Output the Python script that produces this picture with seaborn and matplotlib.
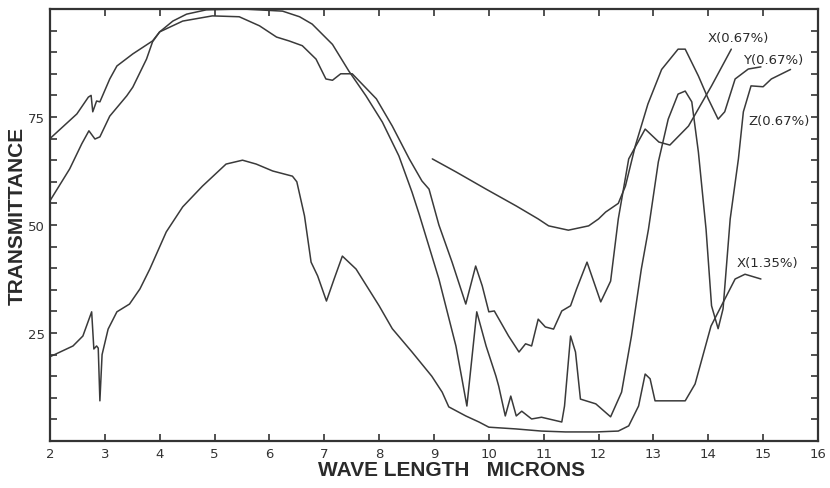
import seaborn as sns
import matplotlib
import matplotlib.pyplot as plt

matplotlib.use('Agg')

# wave length (microns) and transmittance (%)
x067_wl = [2.0, 2.49, 2.7, 2.75, 2.78, 2.85, 2.91, 3.09, 3.22, 3.51, 3.87, 4.0, 4.42, 4.96, 5.45,
           5.82, 6.13, 6.36, 6.6, 6.85, 7.03, 7.15, 7.3, 7.51, 7.95, 8.24, 8.55, 8.78, 8.91, 9.09,
           9.33, 9.58, 9.76, 9.88, 10.0, 10.1, 10.36, 10.55, 10.67, 10.78, 10.9, 11.03, 11.18,
           11.33, 11.49, 11.6, 11.79, 12.04, 12.22, 12.36, 12.55, 12.85, 13.1, 13.3, 13.64,
           14.06, 14.42]
x067_tr = [70, 75.7, 79.6, 80, 76.2, 78.7, 78.5, 83.8, 86.8, 89.6, 92.6, 94.7, 97.2, 98.4, 98.2,
           96.1, 93.5, 92.6, 91.5, 88.4, 83.8, 83.5, 85, 85, 79.2, 72.9, 65.3, 60.2, 58.3, 50,
           41.4, 31.7, 40.5, 35.9, 29.9, 30.1, 24.3, 20.6, 22.5, 22, 28.2, 26.4, 25.9,
           30.1, 31.3, 35.2, 41.4, 32.2, 37, 51.4, 65.3, 72.2, 69.2, 68.5, 72.9,
           82.2, 90.7]

z067_wl = [2.0, 2.36, 2.58, 2.71, 2.82, 2.91, 3.09, 3.4, 3.51, 3.76, 3.87, 4.0, 4.24, 4.49, 4.85,
           5.5, 6.24, 6.55, 6.78, 7.15, 7.45, 7.76, 8.06, 8.36, 8.6, 8.73, 9.09, 9.4, 9.51, 9.6,
           9.78, 9.95, 10.13, 10.18, 10.3, 10.4, 10.5, 10.6, 10.78, 10.96, 11.33, 11.38, 11.49,
           11.58, 11.67, 11.95, 12.22, 12.42, 12.6, 12.78, 12.91, 13.09, 13.27, 13.45, 13.58,
           13.7, 13.82, 13.96, 14.06, 14.18, 14.27, 14.4, 14.55, 14.64, 14.78, 15.0, 15.15, 15.5]
z067_tr = [55.6, 63, 68.8, 71.8, 69.9, 70.4, 75.2, 79.9, 81.9, 88.4, 92.4, 94.7, 97.2, 98.8, 99.8,
           100, 99.5, 98.2, 96.5, 91.8, 85.6, 79.9, 73.8, 66, 57.6, 52.5, 37.5, 22, 14.4, 8.1,
           29.9, 22, 15, 12.7, 5.8, 10.4, 5.8, 6.9, 5.1, 5.5, 4.4, 8.1, 24.3,
           20.6, 9.7, 8.6, 5.6, 11.3, 24.3, 39.8, 49, 64.6, 74.5, 80.3, 81,
           78.5, 66.9, 49, 31.3, 26, 30.6, 51.4, 65.3, 76.2, 82.2, 82, 83.8, 86]

y067_wl = [8.97, 9.4, 9.95, 10.5, 10.9, 11.09, 11.45, 11.82, 12.0, 12.13, 12.36, 12.49, 12.67,
           12.9, 13.15, 13.45, 13.58, 13.82, 14.0, 14.18, 14.3, 14.49, 14.73, 14.96]
y067_tr = [65.3, 62.3, 58.3, 54.4, 51.4, 49.8, 48.8, 49.8, 51.4, 53, 55, 59, 68.3,
           78, 86, 90.7, 90.7, 84.5, 79.2, 74.5, 76.2, 83.8, 86.1, 86.6]

x135_wl = [2.0, 2.42, 2.6, 2.76, 2.8, 2.85, 2.88, 2.91, 2.95, 3.06, 3.22, 3.45, 3.64, 3.82, 4.12,
           4.42, 4.78, 5.21, 5.51, 5.76, 6.06, 6.42, 6.5, 6.64, 6.76, 6.88, 7.04, 7.18, 7.33,
           7.58, 8.0, 8.24, 8.6, 8.96, 9.15, 9.27, 9.58, 9.82, 10.0, 10.49, 10.96, 11.4, 11.95,
           12.36, 12.55, 12.73, 12.85, 12.94, 13.03, 13.58, 13.76, 14.05, 14.49, 14.67, 14.96]
x135_tr = [19.5, 22, 24.3, 29.9, 21.3, 22, 21.5, 9.3, 20, 25.9, 29.9, 31.7, 35.2, 39.8, 48.4,
           54.2, 59, 64.1, 65, 64.1, 62.5, 61.3, 60, 52.1, 41.4, 38.2, 32.4, 37.5, 42.8,
           39.8, 31.3, 26, 20.6, 15, 11.3, 7.9, 5.8, 4.4, 3.2, 2.8, 2.3, 2.1, 2.1,
           2.3, 3.5, 8.1, 15.5, 14.4, 9.3, 9.3, 13.2, 26.6, 37.5, 38.6, 37.5]

curve_names = ['X(0.67%)', 'Y(0.67%)', 'Z(0.67%)', 'X(1.35%)']
name_wl = [14.55, 15.18, 15.29, 15.07]
name_tr = [93.5, 88.4, 74.3, 41.4]

sns.set_style("ticks")
plt.rcParams['font.family'] = ['DejaVu Sans']

fig, ax = plt.subplots(figsize=(8.3, 4.89), dpi=100)
fig.subplots_adjust(left=0.0602, right=0.9855, bottom=0.0961, top=0.9796)

ink = '#3a3a3a'
for wl, tr in [(x067_wl, x067_tr), (z067_wl, z067_tr), (y067_wl, y067_tr), (x135_wl, x135_tr)]:
    sns.lineplot(x=wl, y=tr, ax=ax, color=ink, linewidth=1.1, estimator=None, sort=False)

for name, wl, tr in zip(curve_names, name_wl, name_tr):
    ax.text(wl, tr, name, fontsize=9.5, ha='center', va='center', color='#2a2a2a')

ax.set_xlim(2, 16)
ax.set_ylim(0, 100)
ax.set_xticks(range(2, 17))
ax.set_yticks(range(5, 100, 5))
ax.set_yticklabels([str(v) if v in (25, 50, 75) else '' for v in range(5, 100, 5)])
ax.tick_params(direction='in', top=True, right=True, length=5, width=1.2,
               labelsize=9.5, colors='#333333')
ax.tick_params(axis='x', pad=4)

for spine in ax.spines.values():
    spine.set_linewidth(1.6)
    spine.set_color('#333333')

ax.set_xlabel('WAVE LENGTH   MICRONS', fontsize=15, fontweight='bold', color='#2a2a2a',
              family=['Liberation Sans', 'DejaVu Sans'])
ax.xaxis.set_label_coords(0.523, -0.043)
ax.set_ylabel('TRANSMITTANCE', fontsize=15, fontweight='bold', color='#2a2a2a',
              family=['Liberation Sans', 'DejaVu Sans'])
ax.yaxis.set_label_coords(-0.03, 0.523)

plt.savefig('out.png', dpi=100)
plt.close()
